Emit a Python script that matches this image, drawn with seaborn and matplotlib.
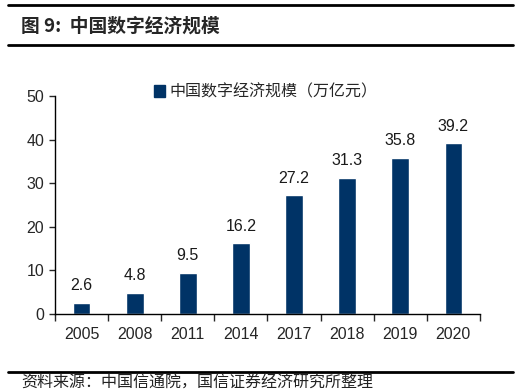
import matplotlib
matplotlib.use("Agg")
import matplotlib.pyplot as plt
from matplotlib.lines import Line2D
from matplotlib.patches import Patch
import seaborn as sns
import pandas as pd

years = ["2005", "2008", "2011", "2014", "2017", "2018", "2019", "2020"]
scale = [2.6, 4.8, 9.5, 16.2, 27.2, 31.3, 35.8, 39.2]
series_name = "中国数字经济规模（万亿元）"

df = pd.DataFrame({"year": years, "value": scale})

sns.set_style("white")
plt.rcParams["font.family"] = ["Liberation Sans", "Noto Sans CJK SC", "DejaVu Sans"]
cjk = ["Noto Sans CJK SC", "DejaVu Sans"]
navy = "#003366"

fig = plt.figure(figsize=(5.25, 3.92), dpi=100)
ax = fig.add_axes([0.105, 0.199, 0.809, 0.556])

sns.barplot(data=df, x="year", y="value", color=navy, width=0.33, ax=ax,
            saturation=1)

for i, v in enumerate(scale):
    ax.text(i, v + 2.2, f"{v:.1f}", ha="center", va="bottom", fontsize=11.5,
            color="#1a1a1a")

ax.set_ylim(0, 50)
ax.set_xlim(-0.5, len(years) - 0.5)
ax.set_yticks(range(0, 51, 10))
ax.set_xlabel("")
ax.set_ylabel("")
for s in ["top", "right"]:
    ax.spines[s].set_visible(False)
for s in ["left", "bottom"]:
    ax.spines[s].set_color("black")
    ax.spines[s].set_linewidth(1.0)
ax.tick_params(axis="y", left=True, length=4, width=1, labelsize=11.5, pad=4)
ax.tick_params(axis="x", bottom=False, labelsize=11.5, pad=6)
ax.set_xticks([i + 0.5 for i in range(-1, len(years))], minor=True)
ax.tick_params(axis="x", which="minor", bottom=True, direction="out", length=5, width=1)

handle = Patch(facecolor=navy, edgecolor=navy)
leg = fig.legend([handle], [series_name], loc="center left",
                 bbox_to_anchor=(0.265, 0.765), frameon=False,
                 prop={"family": cjk, "size": 11.5}, handlelength=0.7,
                 handleheight=0.7, handletextpad=0.3)

# header and footer rules
fig.add_artist(Line2D([0.015, 0.977], [0.987, 0.987], color="black", lw=2))
fig.add_artist(Line2D([0.015, 0.977], [0.885, 0.885], color="black", lw=2))
fig.add_artist(Line2D([0.015, 0.977], [0.052, 0.052], color="black", lw=2))

fig.text(0.04, 0.933, "图 9:  中国数字经济规模", fontsize=13.5, fontweight="bold",
         family=cjk, va="center")
fig.text(0.04, 0.022, "资料来源：中国信通院，国信证券经济研究所整理", fontsize=11.5,
         family=cjk, va="center", color="#222222")

fig.savefig("out.png", dpi=100)
